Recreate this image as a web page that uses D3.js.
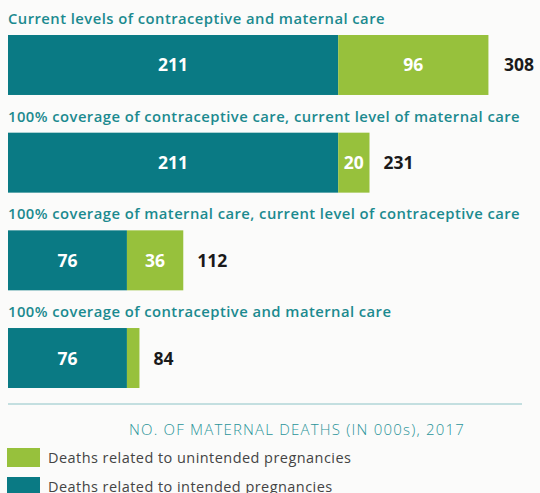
<!DOCTYPE html>
<html>
<head>
<meta charset="utf-8">
<script src="https://cdn.jsdelivr.net/npm/d3@7"></script>
<style>
  body { margin: 0; background: #fbfbfa; }
  svg { display: block; font-family: "Open Sans", sans-serif; }
</style>
</head>
<body>
<div id="chart"></div>
<script>
// scenarios, top to bottom
let scenarios = [
    "Current levels of contraceptive and maternal care",
    "100% coverage of contraceptive care, current level of maternal care",
    "100% coverage of maternal care, current level of contraceptive care",
    "100% coverage of contraceptive and maternal care"
]
let intended = [211, 211, 76, 76]
let unintended = [96, 20, 36, 8]
let totals = [308, 231, 112, 84]
let seriesNames = ["Deaths related to unintended pregnancies", "Deaths related to intended pregnancies"]
let axisTitle = "NO. OF MATERNAL DEATHS (IN 000s), 2017"

let teal = "#0a7a84"
let green = "#97c13c"

let width = 540, height = 493

let svg = d3.select("#chart").append("svg")
    .attr("width", width)
    .attr("height", height)

let x = d3.scaleLinear().domain([0, 308]).range([8, 490])
let y = d3.scaleBand().domain(scenarios).range([35, 388]).paddingInner(0.386).paddingOuter(0)

let rows = scenarios.map((s, i) => ({name: s, a: intended[i], b: unintended[i], total: totals[i]}))

let g = svg.selectAll(".row").data(rows).enter().append("g").attr("class", "row")

// scenario titles
g.append("text")
    .attr("x", 8)
    .attr("y", d => y(d.name) - 11)
    .attr("fill", "#1b8a8f")
    .attr("font-size", 14.8)
    .attr("font-weight", 600)
    .attr("letter-spacing", 0.45)
    .text(d => d.name)

// intended segment
g.append("rect")
    .attr("x", x(0))
    .attr("y", d => y(d.name))
    .attr("width", d => x(d.a) - x(0))
    .attr("height", y.bandwidth())
    .attr("fill", teal)

// unintended segment
g.append("rect")
    .attr("x", d => x(d.a))
    .attr("y", d => y(d.name))
    .attr("width", d => x(d.a + d.b) - x(d.a))
    .attr("height", y.bandwidth())
    .attr("fill", green)

g.append("text")
    .attr("x", d => (x(0) + x(d.a)) / 2)
    .attr("y", d => y(d.name) + y.bandwidth() / 2 + 6.5)
    .attr("text-anchor", "middle")
    .attr("fill", "white")
    .attr("font-size", 17.5)
    .attr("font-weight", 700)
    .text(d => d.a)

g.filter(d => d.b >= 15).append("text")
    .attr("x", d => (x(d.a) + x(d.a + d.b)) / 2)
    .attr("y", d => y(d.name) + y.bandwidth() / 2 + 6.5)
    .attr("text-anchor", "middle")
    .attr("fill", "white")
    .attr("font-size", 17.5)
    .attr("font-weight", 700)
    .text(d => d.b)

// totals
g.append("text")
    .attr("x", d => x(d.total) + 14)
    .attr("y", d => y(d.name) + y.bandwidth() / 2 + 6.5)
    .attr("fill", "#1a1a1a")
    .attr("font-size", 17.5)
    .attr("font-weight", 700)
    .text(d => d.total)

// divider and axis title
svg.append("line")
    .attr("x1", 8).attr("x2", 522)
    .attr("y1", 404).attr("y2", 404)
    .attr("stroke", "#8cc3c6")
    .attr("stroke-width", 1)

svg.append("text")
    .attr("x", 297)
    .attr("y", 435)
    .attr("text-anchor", "middle")
    .attr("fill", "#2a9499")
    .attr("font-size", 15)
    .attr("font-weight", 300)
    .attr("letter-spacing", 1.2)
    .text(axisTitle)

// legend
let legend = svg.selectAll(".legend").data(seriesNames).enter().append("g")
    .attr("class", "legend")
    .attr("transform", (d, i) => `translate(7, ${448 + i * 29})`)

legend.append("rect")
    .attr("width", 33)
    .attr("height", 19)
    .attr("fill", (d, i) => i === 0 ? green : teal)

legend.append("text")
    .attr("x", 41)
    .attr("y", 14.5)
    .attr("fill", "#444")
    .attr("font-size", 14.5)
    .attr("letter-spacing", 0.45)
    .text(d => d)
</script>
</body>
</html>
